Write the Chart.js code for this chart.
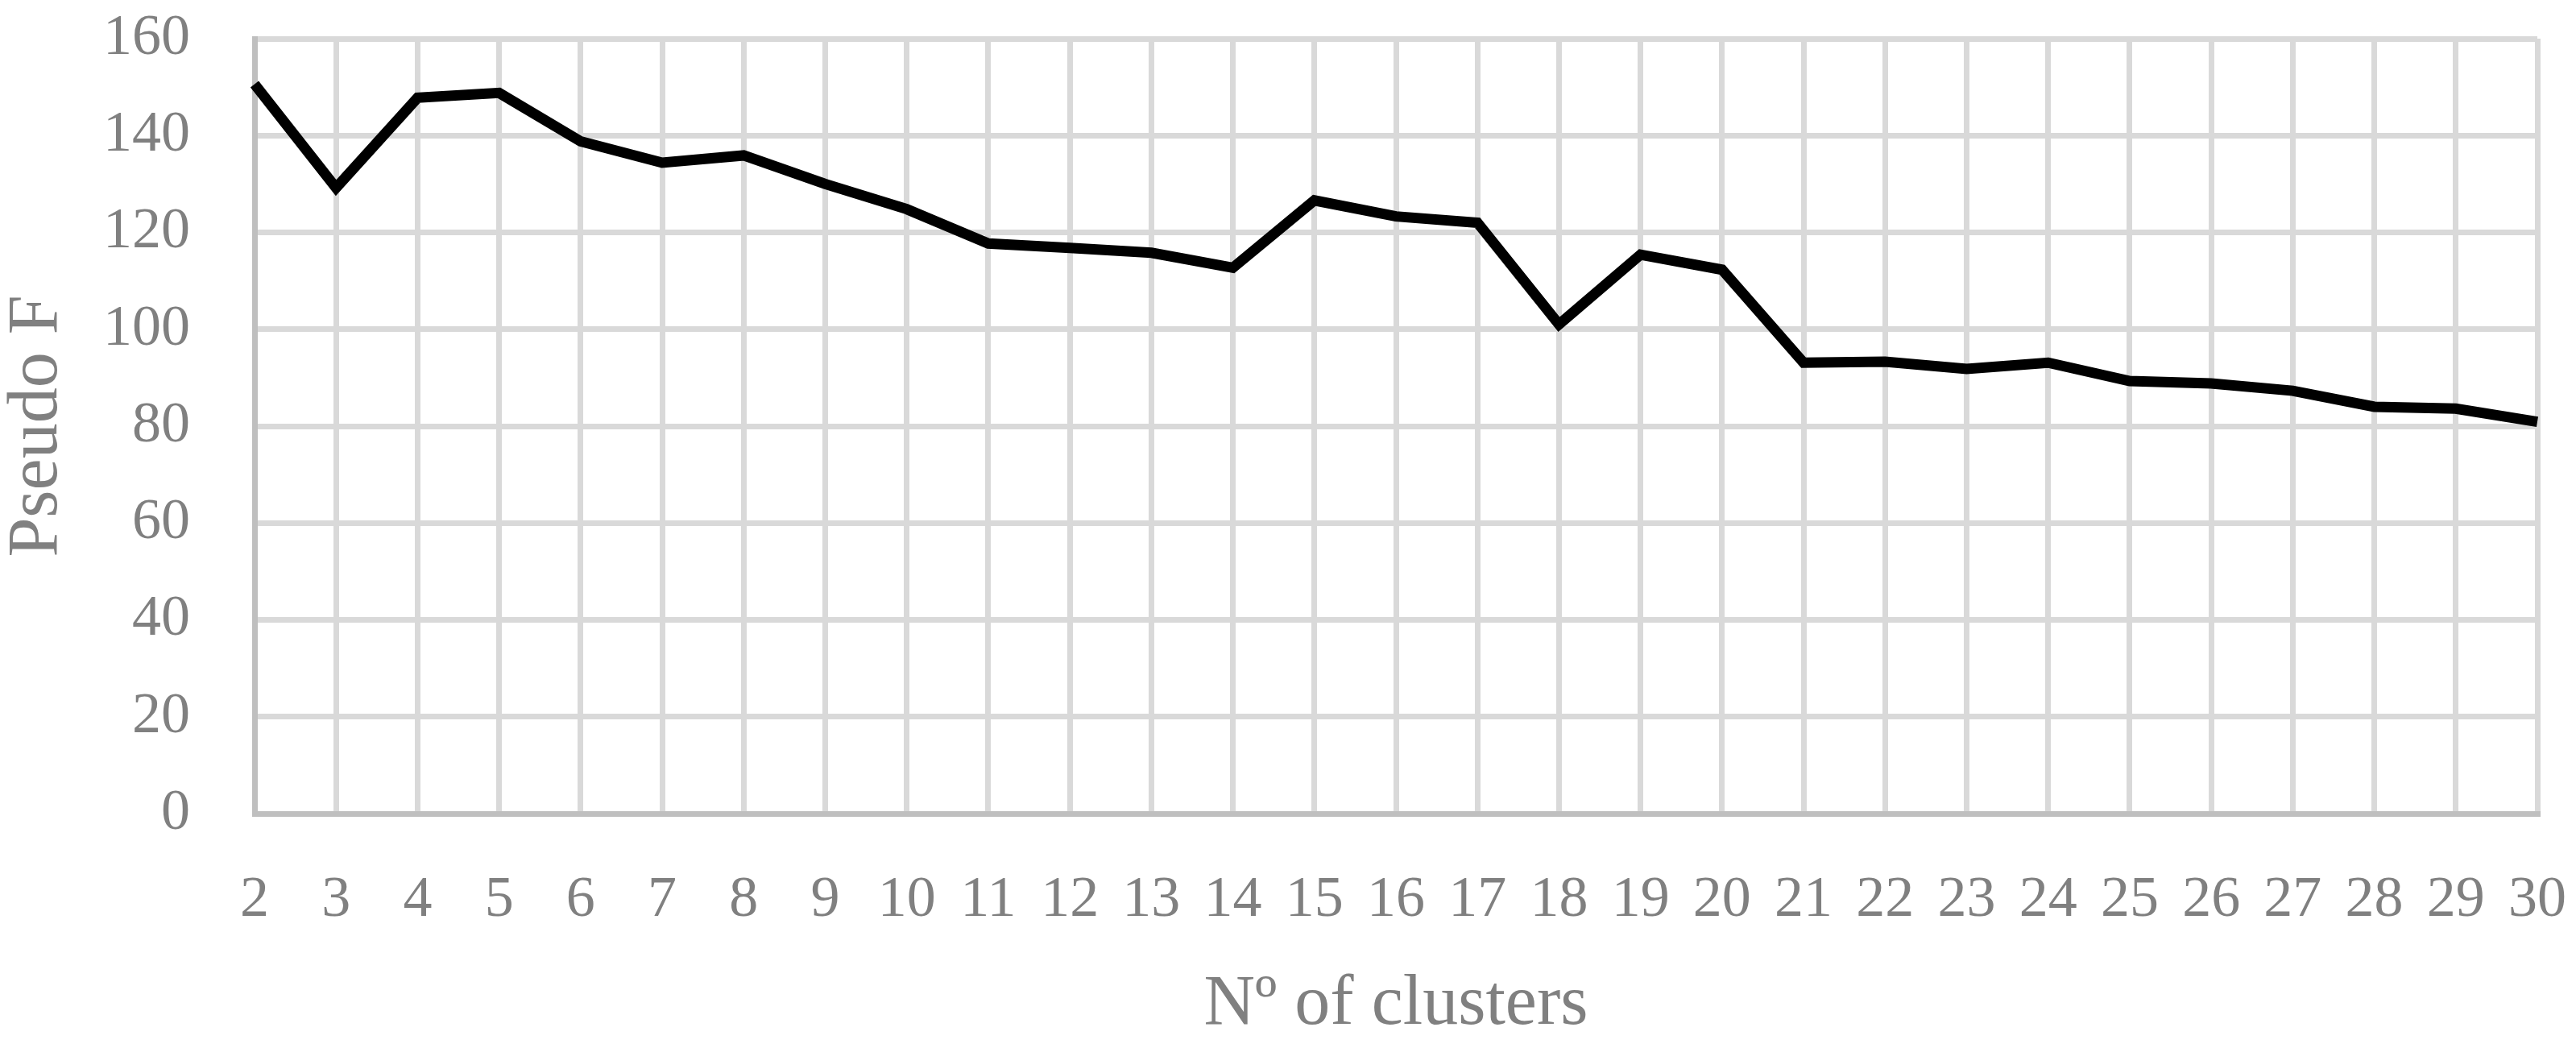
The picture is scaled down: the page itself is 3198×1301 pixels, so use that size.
<!DOCTYPE html>
<html>
<head>
<meta charset="utf-8">
<script src="https://cdn.jsdelivr.net/npm/chart.js@4"></script>
<style>
  html, body { margin: 0; padding: 0; background: #fff; }
  #wrap { width: 3198px; height: 1301px; }
</style>
</head>
<body>
<div id="wrap"><canvas id="myChart"></canvas></div>
<script>
const CLUSTERS = ["2", "3", "4", "5", "6", "7", "8", "9", "10", "11", "12", "13", "14", "15", "16",
                  "17", "18", "19", "20", "21", "22", "23", "24", "25", "26", "27", "28", "29", "30"];
const PSEUDO_F = [150.6, 129.2, 147.8, 148.8, 138.8, 134.4, 135.9, 130.0, 124.8, 117.7,
                  116.8, 115.8, 112.7, 126.6, 123.3, 122.0, 101.0, 115.4, 112.3, 93.1,
                  93.3, 91.8, 93.1, 89.3, 88.8, 87.3, 84.0, 83.6, 80.9];
const Y_MIN = 0;
const Y_MAX = 160;
const Y_STEP = 20;

const FONT = "'Palatino Linotype', 'Book Antiqua', Palatino, 'Liberation Serif', serif";
const TEXT_GREY = "#808080";

const data = {
  labels: CLUSTERS,
  datasets: [
    {
      label: "Pseudo F",
      data: PSEUDO_F,
      borderColor: "#000000",
      borderWidth: 13,
      borderJoinStyle: "miter",
      pointRadius: 0,
      tension: 0,
      fill: false,
    },
  ],
};

const config = {
  type: "line",
  data: data,
  options: {
    responsive: true,
    maintainAspectRatio: false,
    animation: false,
    layout: {
      padding: { top: 48, right: 48, left: 0, bottom: 0 }
    },
    plugins: {
      legend: { display: false },
      tooltip: { enabled: false },
    },
    scales: {
      x: {
        offset: false,
        // invisible tick marks give the label gap (ticks.padding would also shrink the plot)
        grid: { color: "#d9d9d9", lineWidth: 7, drawTicks: true, tickLength: 65,
                tickColor: "rgba(0,0,0,0)", offset: false },
        border: { color: "#bfbfbf", width: 7 },
        ticks: {
          color: TEXT_GREY,
          font: { family: FONT, size: 72 },
          padding: 0,
          maxRotation: 0,
          autoSkip: false,
        },
        title: {
          display: true,
          text: "Nº of clusters",
          color: TEXT_GREY,
          font: { family: FONT, size: 88 },
          padding: 0,
        },
        // fix the height so the plot bottom sits where the original has it
        afterFit: function(scale) { scale.height = 291; },
      },
      y: {
        min: Y_MIN,
        max: Y_MAX,
        grid: { color: "#d9d9d9", lineWidth: 7, drawTicks: true, tickLength: 80,
                tickColor: "rgba(0,0,0,0)" },
        border: { color: "#bfbfbf", width: 7 },
        ticks: {
          stepSize: Y_STEP,
          color: TEXT_GREY,
          font: { family: FONT, size: 72 },
          padding: 0,
        },
        title: {
          display: true,
          text: "Pseudo F",
          color: TEXT_GREY,
          font: { family: FONT, size: 88, lineHeight: 1.07 },
          padding: 0,
        },
        afterFit: function(scale) { scale.width = 316; },
      },
    },
  },
};

const myChart = new Chart(document.getElementById("myChart"), config);
</script>
</body>
</html>
